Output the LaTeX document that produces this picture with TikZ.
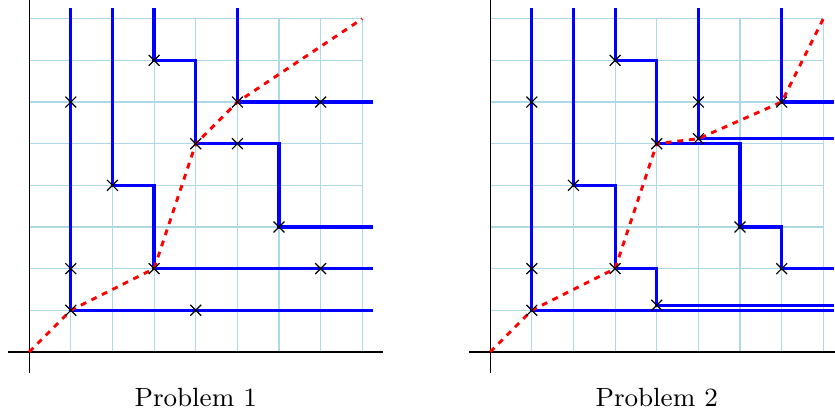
\documentclass[tikz,border=0pt]{standalone}
\usepackage{tikz}
\usetikzlibrary{shapes.misc}
\definecolor{gridblue}{HTML}{ADD8E6}
\definecolor{stairblue}{HTML}{0000FF}
\definecolor{cutred}{HTML}{FF0000}

\begin{document}
\begin{tikzpicture}[x=0.5cm, y=0.5cm,
  grd/.style={gridblue, line width=0.4pt, step=1},
  stair/.style={stairblue, line width=1.1pt},
  cut/.style={cutred, line width=1pt, dash pattern=on 2pt off 2pt},
  mk/.style={draw, cross out, minimum size=3.3pt, inner sep=0pt, line width=0.4pt},
  lab/.style={font=\fontsize{9}{11}\selectfont, anchor=base}]
\useasboundingbox (-0.7,-1.51) rectangle (19.35,8.45);
% Problem 1
\draw[grd] (0,0) grid (8,8);
\draw (-0.5,0) -- (8.5,0) (0,-0.5) -- (0,8.5);
\draw[stair] (1,8.25) |- (8.25,1);
\draw[stair] (2,8.25) |- (3,4) |- (8.25,2);
\draw[stair] (3,8.25) |- (4,7) |- (6,5) |- (8.25,3);
\draw[stair] (5,8.25) |- (8.25,6);
\coordinate (a00) at (0,0);
\coordinate (a88) at (8,8);
\foreach \x/\y/\n in {3/7/37, 1/6/16, 5/6/56, 7/6/76, 4/5/45, 5/5/55, 2/4/24,
  6/3/63, 1/2/12, 3/2/32, 7/2/72, 1/1/11, 4/1/41}
  \coordinate (a\n) at (\x,\y);
\draw[cut] (a00) -- (a11) -- (a32) -- (a45) -- (a56) -- (a88);
\foreach \n in {37,16,56,76,45,55,24,63,12,32,72,11,41}
  \node[mk] (ma\n) at (a\n) {};
\node[lab] (cap1) at (4,-1.3) {Problem 1};
% Problem 2
\begin{scope}[xshift=5.535cm]
\draw[grd] (0,0) grid (8,8);
\draw (-0.5,0) -- (8.5,0) (0,-0.5) -- (0,8.5);
\draw[stair] (1,8.25) |- (8.25,1);
\draw[stair] (2,8.25) |- (3,4) |- (4,2) |- (8.25,1.12);
\draw[stair] (3,8.25) |- (4,7) |- (6,5) |- (7,3) |- (8.25,2);
\draw[stair] (5,8.25) |- (8.25,5.12);
\draw[stair] (7,8.25) |- (8.25,6);
\coordinate (b00) at (0,0);
\coordinate (b88) at (8,8);
\foreach \x/\y/\n in {3/7/37, 1/6/16, 5/6/56, 7/6/76, 4/5/45, 5/5.12/55, 2/4/24,
  6/3/63, 1/2/12, 3/2/32, 7/2/72, 1/1/11, 4/1.12/41}
  \coordinate (b\n) at (\x,\y);
\draw[cut] (b00) -- (b11) -- (b32) -- (b45) -- (b55) -- (b76) -- (b88);
\foreach \n in {37,16,56,76,45,55,24,63,12,32,72,11,41}
  \node[mk] (mb\n) at (b\n) {};
\node[lab] (cap2) at (4,-1.3) {Problem 2};
\end{scope}
\end{tikzpicture}
\end{document}
